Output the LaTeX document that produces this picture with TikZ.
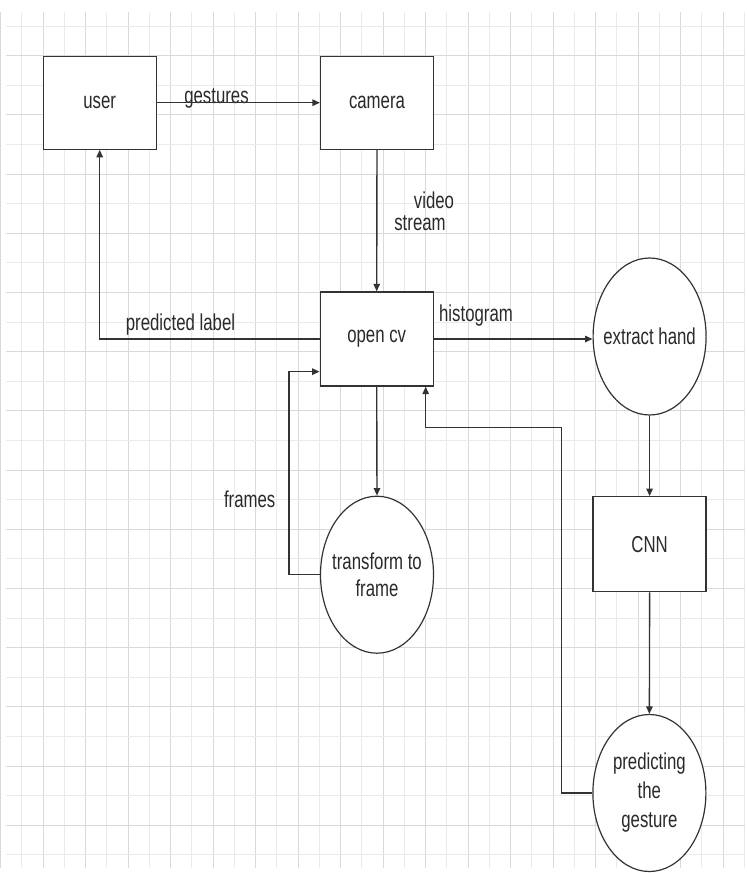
\documentclass[tikz,border=0pt]{standalone}
\usepackage{fontspec}
\setmainfont{Liberation Sans}[FakeStretch=0.73]
\usetikzlibrary{arrows.meta,shapes.geometric}
\definecolor{minorgrid}{HTML}{EAEAEA}
\definecolor{majorgrid}{HTML}{D9D9D9}
\definecolor{ink}{HTML}{333333}
\definecolor{txt}{HTML}{2A2A2A}
\begin{document}
\begin{tikzpicture}[x=1pt,y=-1pt,
  every node/.style={font=\fontsize{23}{27}\selectfont, text=txt},
  boxnode/.style={draw=ink, line width=1.3pt, fill=white, rectangle, minimum width=113pt, minimum height=93pt, inner sep=0pt},
  ellnode/.style={draw=ink, line width=1.2pt, fill=white, ellipse, minimum width=113pt, minimum height=157pt, inner xsep=-12pt, inner ysep=0pt, align=center},
  conn/.style={draw=ink, line width=1.4pt},
  arr/.style={conn, -{Triangle[length=7.5pt,width=6.5pt]}},
  lbl/.style={anchor=base, inner sep=0pt}
]
\useasboundingbox (0,0) rectangle (747,873);
\fill[white] (0,0) rectangle (747,873);
% grid
\foreach \k in {-2,...,33}{
  \pgfmathsetmacro{\gx}{43+21.25*\k}
  \pgfmathtruncatemacro{\ev}{mod(\k+100,2)}
  \ifnum\ev=0
    \draw[majorgrid, line width=1pt] (\gx,12) -- (\gx,868);
  \else
    \draw[minorgrid, line width=1pt] (\gx,12) -- (\gx,868);
  \fi
}
\foreach \k in {0,...,28}{
  \pgfmathsetmacro{\gy}{26+29.6*\k}
  \pgfmathtruncatemacro{\ev}{mod(\k,2)}
  \ifnum\ev=1
    \draw[majorgrid, line width=1pt] (6,\gy) -- (745,\gy);
  \else
    \draw[minorgrid, line width=1pt] (6,\gy) -- (745,\gy);
  \fi
}
% nodes
\node[boxnode] (user) at (99.7,102.7) {user};
\node[boxnode] (camera) at (377,102.7) {camera};
\node[boxnode, minimum height=94pt] (opencv) at (376.7,339) {open cv};
\node[ellnode] (extract) at (649.6,336.5) {extract hand};
\node[boxnode, minimum height=95pt] (cnn) at (649.6,544.2) {CNN};
\node[ellnode] (transform) at (377,574.7) {transform to\\frame};
\node[ellnode, font=\fontsize{23}{29}\selectfont] (predict) at (649.4,793) {predicting\\the\\gesture};
% labels
\node[lbl] (lgest) at (216.5,103.5) {gestures};
\node[lbl] (lvideo) at (434,208) {video};
\node[lbl] (lstream) at (420,230) {stream};
\node[lbl] (lhist) at (476,321.5) {histogram};
\node[lbl] (lpred) at (180.5,330) {predicted label};
\node[lbl] (lframes) at (249.7,507.5) {frames};
% connectors
\draw[arr] (user.east) -- (camera.west);
\draw[arr] (camera.south) -- (opencv.north);
\draw[arr] (opencv.west) -| (user.south);
\draw[arr] (opencv.east) -- (opencv.east -| extract.west);
\draw[arr] (extract.south) -- (cnn.north);
\draw[arr] (cnn.south) -- (predict.north);
\draw[arr] (opencv.south) -- (transform.north);
\draw[arr] (transform.west) -- ++(-31,0) |- ([yshift=15pt]opencv.south west);
\coordinate (ret) at (425.7,427.7);
\draw[arr] (predict.west) -- ++(-31,0) |- (ret) -- (ret |- opencv.south);
\end{tikzpicture}
\end{document}
